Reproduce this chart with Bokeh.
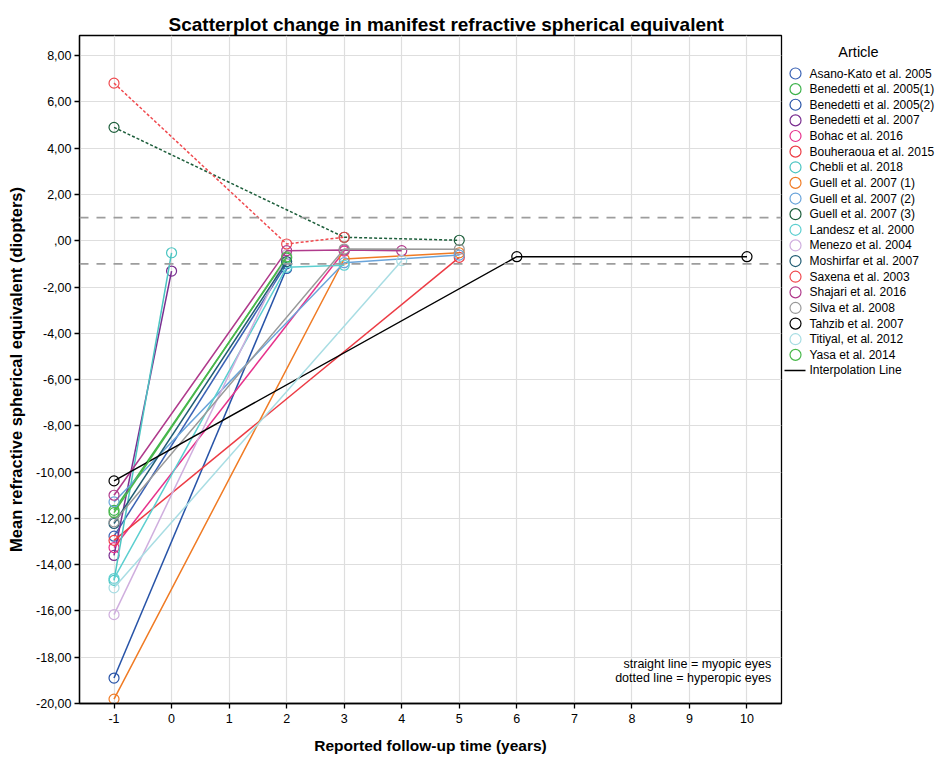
from bokeh.plotting import figure
from bokeh.layouts import row
from bokeh.models import Range1d, FixedTicker, Span, Label, Title
from bokeh.core.properties import value
from bokeh.embed import file_html
from bokeh.resources import INLINE

# ---------------- data ----------------
articles = [
    "Asano-Kato et al. 2005", "Benedetti et al. 2005(1)", "Benedetti et al. 2005(2)",
    "Benedetti et al. 2007", "Bohac et al. 2016", "Bouheraoua et al. 2015",
    "Chebli et al. 2018", "Guell et al. 2007 (1)", "Guell et al. 2007 (2)",
    "Guell et al. 2007 (3)", "Landesz et al. 2000", "Menezo  et al. 2004",
    "Moshirfar et al. 2007", "Saxena et al. 2003", "Shajari et al. 2016",
    "Silva et al. 2008", "Tahzib et al. 2007", "Titiyal, et al. 2012", "Yasa et al. 2014",
]
# follow-up time (years) per article (-1 = preoperative)
follow_up = [
    [-1, 2], [-1, 2], [-1, 2],
    [-1, 0], [-1, 3], [-1, 5],
    [-1, 0], [-1, 3, 5], [-1, 3, 5],
    [-1, 3, 5], [-1, 2, 3], [-1, 2],
    [-1, 2], [-1, 2, 3], [-1, 2, 3, 4],
    [-1, 3, 5], [-1, 6, 10], [-1, 4], [-1, 2],
]
# mean refractive spherical equivalent (D)
mrse = [
    [-12.77, -1.0], [-11.65, -0.75], [-18.9, -1.2],
    [-13.6, -1.31], [-13.26, -0.45], [-12.95, -0.72],
    [-14.68, -0.52], [-19.81, -0.79, -0.52], [-11.29, -0.95, -0.62],
    [4.9, 0.15, 0.02], [-14.6, -1.15, -1.06], [-16.16, -0.6],
    [-12.22, -0.9], [6.81, -0.14, 0.15], [-11.0, -0.43, -0.4, -0.43],
    [-12.15, -0.36, -0.37], [-10.38, -0.69, -0.69], [-15.0, -0.86], [-11.75, -0.7],
]
hyperopic = ["Guell et al. 2007 (3)", "Saxena et al. 2003"]
interpolation_label = "Interpolation Line"
reference_lines = [1, -1]

x_ticks = list(range(-1, 11))
x_tick_labels = [str(t) for t in x_ticks]
y_ticks = list(range(-20, 9, 2))
y_tick_labels = ["-20,00", "-18,00", "-16,00", "-14,00", "-12,00", "-10,00", "-8,00",
                 "-6,00", "-4,00", "-2,00", ",00", "2,00", "4,00", "6,00", "8,00"]

palette = [
    "#3a62b4", "#3fb34c", "#2753a7",
    "#7a2f90", "#e6318b", "#ec3b44",
    "#4bc5c2", "#f07b24", "#6aa4da",
    "#1d5e3b", "#5ccfd0", "#cfaede",
    "#1f5b72", "#f04a4f", "#b03b8c",
    "#999999", "#000000", "#a8dde3", "#49b84a",
]

FONT = "Liberation Sans"
H = 756
MAIN_W = 783
TOTAL_W = 936
TOP, BOTTOM = 35, 53

# ---------------- main figure ----------------
p = figure(width=MAIN_W, height=H,
           x_range=Range1d(-1.6, 10.6), y_range=Range1d(-20, 8.87),
           output_backend="svg", toolbar_location=None,
           min_border_left=79, min_border_right=2,
           min_border_top=TOP, min_border_bottom=BOTTOM)

# thin spacer title next to the frame, real title above it
p.title.text = " "
p.title.text_font_size = "1px"
p.title.standoff = 6
p.add_layout(Title(text="Scatterplot change in manifest refractive spherical equivalent",
                   align="left", offset=89, text_font=FONT, text_font_size="19px",
                   text_font_style="bold", text_color="black", standoff=2), "above")

p.background_fill_color = "white"
p.border_fill_color = "white"
p.outline_line_color = "black"
p.outline_line_width = 1.3

for ax in (p.xaxis[0], p.yaxis[0]):
    ax.axis_line_color = "black"
    ax.axis_line_width = 1.3
    ax.major_tick_line_color = "black"
    ax.major_tick_line_width = 1.3
    ax.major_tick_out = 5
    ax.major_tick_in = 0
    ax.minor_tick_line_color = None
    ax.major_label_text_font = FONT
    ax.major_label_text_font_size = "12.5px"
    ax.major_label_text_color = "black"
    ax.axis_label_text_font = FONT
    ax.axis_label_text_font_style = "bold"
    ax.axis_label_text_color = "black"

p.xaxis.ticker = FixedTicker(ticks=x_ticks)
p.xaxis.major_label_overrides = dict(zip(x_ticks, x_tick_labels))
p.xaxis.axis_label = "Reported follow-up time (years)"
p.xaxis.axis_label_text_font_size = "15.5px"
p.xaxis.major_label_standoff = 5
p.xaxis.axis_label_standoff = 11

p.yaxis.ticker = FixedTicker(ticks=y_ticks)
p.yaxis.major_label_overrides = dict(zip(y_ticks, y_tick_labels))
p.yaxis.axis_label = "Mean refractive spherical equivalent (diopters)"
p.yaxis.axis_label_text_font_size = "16.5px"
p.yaxis.major_label_standoff = 3
p.yaxis.axis_label_standoff = 8

p.xgrid.ticker = FixedTicker(ticks=x_ticks)
p.ygrid.ticker = FixedTicker(ticks=y_ticks)
for g in (p.xgrid[0], p.ygrid[0]):
    g.grid_line_color = "#dedede"
    g.grid_line_width = 1.2

for loc in reference_lines:
    p.add_layout(Span(location=loc, dimension="width", line_color="#9d9d9d",
                      line_width=1.6, line_dash="9 8"))

for name, xs, ys, col in zip(articles, follow_up, mrse, palette):
    dash = "3 2" if name in hyperopic else "solid"
    p.line(xs, ys, line_color=col, line_width=1.5, line_dash=dash)
    p.scatter(xs, ys, marker="circle", size=10, line_color=col,
              line_width=1.2, fill_alpha=0)

p.add_layout(Label(x=10.42, y=-18.31, text="straight line = myopic eyes",
                   text_align="right", text_baseline="middle",
                   text_font=FONT, text_font_size="12.5px", text_color="black"))
p.add_layout(Label(x=10.42, y=-18.91, text="dotted line = hyperopic eyes",
                   text_align="right", text_baseline="middle",
                   text_font=FONT, text_font_size="12.5px", text_color="black"))

# ---------------- legend panel (separate canvas, page-pixel units) ----------------
LW = TOTAL_W - MAIN_W
lg = figure(width=LW, height=H,
            x_range=Range1d(MAIN_W, TOTAL_W), y_range=Range1d(H - BOTTOM, TOP),
            output_backend="svg", toolbar_location=None,
            x_axis_type=None, y_axis_type=None,
            min_border_left=0, min_border_right=0,
            min_border_top=TOP, min_border_bottom=BOTTOM)
lg.outline_line_color = None
lg.grid.visible = False
lg.background_fill_color = "white"
lg.border_fill_color = "white"

first_y, step = 73.0, 15.63
glyph_x, text_x = 795, 809
n = len(articles)
ys_leg = [first_y + i * step for i in range(n)]
lg.scatter([glyph_x] * n, ys_leg, marker="circle", size=11, line_color=palette,
           line_width=1.2, fill_alpha=0)
lg.text([text_x] * n, ys_leg, text=articles, text_baseline="middle", text_align="left",
        text_font=value(FONT), text_font_size="12px", text_color="black")
y_int = first_y + n * step
lg.line([glyph_x - 11, glyph_x + 10], [y_int, y_int], line_color="black", line_width=1.4)
lg.text([text_x], [y_int], text=[interpolation_label], text_baseline="middle",
        text_align="left", text_font=value(FONT), text_font_size="12px",
        text_color="black")
lg.text([858], [51], text=["Article"], text_baseline="middle", text_align="center",
        text_font=value(FONT), text_font_size="14.5px", text_color="black")

layout = row(p, lg, spacing=0)
open("out.html", "w").write(file_html(layout, INLINE))
